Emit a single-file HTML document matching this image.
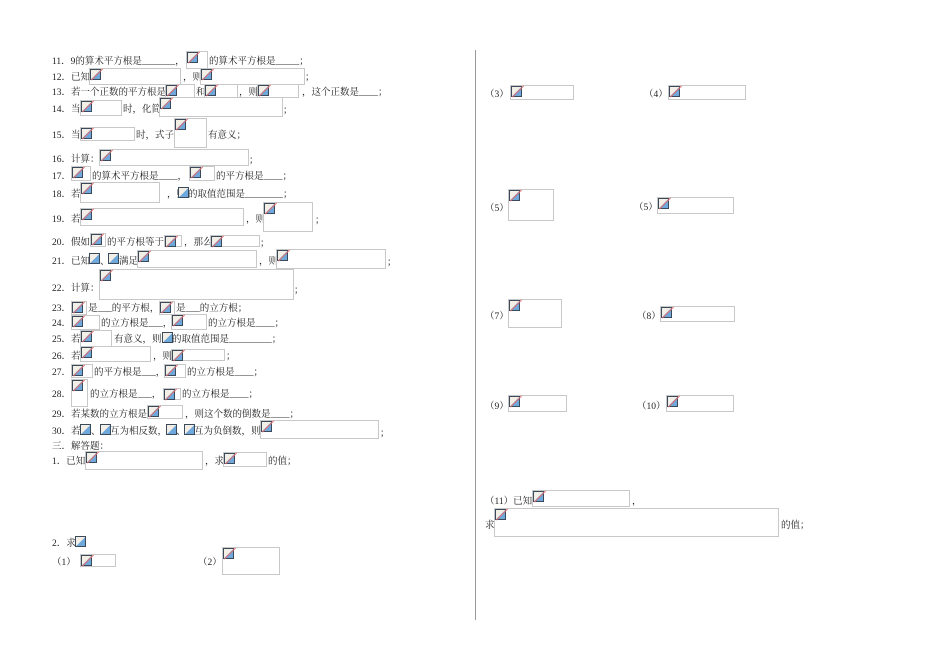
<!DOCTYPE html>
<html><head><meta charset="utf-8"><style>
body{margin:0;width:950px;height:672px;background:#fff;position:relative;overflow:hidden;font-family:"Liberation Serif","Noto Serif CJK SC",serif;font-size:9.5px;color:#222}
.t{position:absolute;white-space:nowrap;line-height:11px;transform:translateY(2px)}
.b{position:absolute;border:1px solid #c8c8c8;box-sizing:border-box}
.b::before,.i{content:"";position:absolute;left:0;top:0;width:11px;height:11px;border:1px solid #3a4a5a;box-sizing:border-box;background:linear-gradient(to top left,#6fa8da 48%,#f4efe6 50%)}
.i{position:absolute}
.b::after{content:"";position:absolute;left:-1px;top:5px;width:16px;height:1px;background:#e07070;transform:rotate(-45deg)}
.vl{position:absolute;left:475px;top:50px;width:1px;height:570px;background:#999}
</style></head><body>
<div class="vl"></div>
<span class="t" style="left:52px;top:55px">11．9的算术平方根是_______，</span>
<div class="b" style="left:186px;top:51px;width:22px;height:18px"></div>
<span class="t" style="left:209px;top:55px">的算术平方根是_____；</span>

<span class="t" style="left:52px;top:71px">12．已知</span>
<div class="b" style="left:89px;top:68px;width:92px;height:17px"></div>
<span class="t" style="left:183px;top:71px">，则</span>
<div class="b" style="left:200px;top:68px;width:105px;height:17px"></div>
<span class="t" style="left:305px;top:71px">；</span>

<span class="t" style="left:52px;top:86px">13．若一个正数的平方根是</span>
<div class="b" style="left:165px;top:84px;width:30px;height:14px"></div>
<span class="t" style="left:196px;top:86px">和</span>
<div class="b" style="left:204px;top:84px;width:34px;height:14px"></div>
<span class="t" style="left:239px;top:86px">，则</span>
<div class="b" style="left:257px;top:84px;width:42px;height:14px"></div>
<span class="t" style="left:302px;top:86px">，这个正数是____；</span>

<span class="t" style="left:52px;top:103px">14．当</span>
<div class="b" style="left:80px;top:100px;width:42px;height:16px"></div>
<span class="t" style="left:123px;top:103px">时，化简</span>
<div class="b" style="left:159px;top:97px;width:124px;height:20px"></div>
<span class="t" style="left:283px;top:104px">；</span>

<span class="t" style="left:52px;top:129px">15．当</span>
<div class="b" style="left:80px;top:127px;width:55px;height:14px"></div>
<span class="t" style="left:136px;top:129px">时，式子</span>
<div class="b" style="left:174px;top:118px;width:33px;height:30px"></div>
<span class="t" style="left:208px;top:129px">有意义；</span>

<span class="t" style="left:52px;top:153px">16．计算：</span>
<div class="b" style="left:99px;top:149px;width:150px;height:17px"></div>
<span class="t" style="left:249px;top:154px">；</span>

<span class="t" style="left:52px;top:170px">17．</span>
<div class="b" style="left:71px;top:166px;width:20px;height:15px"></div>
<span class="t" style="left:92px;top:170px">的算术平方根是____，</span>
<div class="b" style="left:189px;top:166px;width:26px;height:15px"></div>
<span class="t" style="left:216px;top:170px">的平方根是____；</span>

<span class="t" style="left:52px;top:188px">18．若</span>
<div class="b" style="left:80px;top:182px;width:80px;height:21px"></div>
<span class="t" style="left:167px;top:188px">，则</span>
<span class="i" style="left:178px;top:187px"></span>
<span class="t" style="left:188px;top:188px">的取值范围是________；</span>

<span class="t" style="left:52px;top:213px">19．若</span>
<div class="b" style="left:80px;top:208px;width:164px;height:18px"></div>
<span class="t" style="left:246px;top:213px">，则</span>
<div class="b" style="left:263px;top:202px;width:50px;height:30px"></div>
<span class="t" style="left:315px;top:214px">；</span>

<span class="t" style="left:52px;top:236px">20．假如</span>
<div class="b" style="left:90px;top:233px;width:16px;height:14px"></div>
<span class="t" style="left:107px;top:236px">的平方根等于</span>
<div class="b" style="left:164px;top:235px;width:18px;height:12px"></div>
<span class="t" style="left:184px;top:236px">，那么</span>
<div class="b" style="left:210px;top:235px;width:50px;height:12px"></div>
<span class="t" style="left:260px;top:237px">；</span>

<span class="t" style="left:52px;top:255px">21．已知</span>
<span class="i" style="left:89px;top:253px"></span>
<span class="t" style="left:100px;top:255px">、</span>
<span class="i" style="left:108px;top:253px"></span>
<span class="t" style="left:119px;top:255px">满足</span>
<div class="b" style="left:137px;top:250px;width:120px;height:18px"></div>
<span class="t" style="left:259px;top:255px">，则</span>
<div class="b" style="left:276px;top:249px;width:110px;height:20px"></div>
<span class="t" style="left:387px;top:256px">；</span>

<span class="t" style="left:52px;top:282px">22．计算：</span>
<div class="b" style="left:99px;top:269px;width:195px;height:31px"></div>
<span class="t" style="left:294px;top:284px">；</span>

<span class="t" style="left:52px;top:302px">23．</span>
<div class="b" style="left:71px;top:301px;width:16px;height:14px"></div>
<span class="t" style="left:88px;top:302px">是___的平方根，</span>
<div class="b" style="left:159px;top:301px;width:16px;height:14px"></div>
<span class="t" style="left:176px;top:302px">是___的立方根；</span>

<span class="t" style="left:52px;top:317px">24．</span>
<div class="b" style="left:71px;top:315px;width:29px;height:15px"></div>
<span class="t" style="left:101px;top:317px">的立方根是___，</span>
<div class="b" style="left:171px;top:314px;width:36px;height:16px"></div>
<span class="t" style="left:208px;top:317px">的立方根是____；</span>

<span class="t" style="left:52px;top:333px">25．若</span>
<div class="b" style="left:80px;top:330px;width:32px;height:17px"></div>
<span class="t" style="left:114px;top:333px">有意义，则</span>
<span class="i" style="left:162px;top:332px"></span>
<span class="t" style="left:172px;top:333px">的取值范围是_________；</span>

<span class="t" style="left:52px;top:350px">26．若</span>
<div class="b" style="left:80px;top:346px;width:71px;height:16px"></div>
<span class="t" style="left:153px;top:350px">，则</span>
<div class="b" style="left:171px;top:349px;width:54px;height:12px"></div>
<span class="t" style="left:226px;top:350px">；</span>

<span class="t" style="left:52px;top:366px">27．</span>
<div class="b" style="left:71px;top:364px;width:22px;height:14px"></div>
<span class="t" style="left:94px;top:366px">的平方根是___，</span>
<div class="b" style="left:164px;top:364px;width:22px;height:14px"></div>
<span class="t" style="left:187px;top:366px">的立方根是____；</span>

<span class="t" style="left:52px;top:388px">28．</span>
<div class="b" style="left:71px;top:379px;width:17px;height:28px"></div>
<span class="t" style="left:90px;top:388px">的立方根是___，</span>
<div class="b" style="left:163px;top:388px;width:18px;height:12px"></div>
<span class="t" style="left:182px;top:388px">的立方根是____；</span>

<span class="t" style="left:52px;top:408px">29．若某数的立方根是</span>
<div class="b" style="left:147px;top:405px;width:36px;height:14px"></div>
<span class="t" style="left:185px;top:408px">，则这个数的倒数是____；</span>

<span class="t" style="left:52px;top:425px">30．若</span>
<span class="i" style="left:80px;top:424px"></span>
<span class="t" style="left:91px;top:425px">、</span>
<span class="i" style="left:100px;top:424px"></span>
<span class="t" style="left:110px;top:425px">互为相反数，</span>
<span class="i" style="left:166px;top:424px"></span>
<span class="t" style="left:176px;top:425px">、</span>
<span class="i" style="left:184px;top:424px"></span>
<span class="t" style="left:194px;top:425px">互为负倒数，则</span>
<div class="b" style="left:260px;top:420px;width:119px;height:19px"></div>
<span class="t" style="left:380px;top:427px">；</span>

<span class="t" style="left:52px;top:440px">三．解答题：</span>
<span class="t" style="left:52px;top:455px">1．已知</span>
<div class="b" style="left:85px;top:451px;width:118px;height:19px"></div>
<span class="t" style="left:205px;top:455px">，求</span>
<div class="b" style="left:223px;top:452px;width:44px;height:15px"></div>
<span class="t" style="left:268px;top:455px">的值；</span>

<span class="t" style="left:52px;top:537px">2．求</span>
<span class="i" style="left:75px;top:536px"></span>
<span class="t" style="left:52px;top:556px">（1）</span>
<div class="b" style="left:80px;top:554px;width:36px;height:13px"></div>
<span class="t" style="left:198px;top:556px">（2）</span>
<div class="b" style="left:222px;top:547px;width:58px;height:28px"></div>

<span class="t" style="left:485px;top:88px">（3）</span>
<div class="b" style="left:510px;top:85px;width:64px;height:15px"></div>
<span class="t" style="left:644px;top:88px">（4）</span>
<div class="b" style="left:668px;top:85px;width:78px;height:15px"></div>

<span class="t" style="left:485px;top:202px">（5）</span>
<div class="b" style="left:508px;top:189px;width:46px;height:32px"></div>
<span class="t" style="left:634px;top:201px">（5）</span>
<div class="b" style="left:657px;top:197px;width:77px;height:17px"></div>

<span class="t" style="left:485px;top:310px">（7）</span>
<div class="b" style="left:508px;top:299px;width:54px;height:29px"></div>
<span class="t" style="left:637px;top:310px">（8）</span>
<div class="b" style="left:660px;top:306px;width:75px;height:16px"></div>

<span class="t" style="left:485px;top:400px">（9）</span>
<div class="b" style="left:508px;top:395px;width:59px;height:17px"></div>
<span class="t" style="left:637px;top:400px">（10）</span>
<div class="b" style="left:666px;top:395px;width:68px;height:17px"></div>

<span class="t" style="left:485px;top:495px">（11）已知</span>
<div class="b" style="left:532px;top:490px;width:98px;height:17px"></div>
<span class="t" style="left:632px;top:495px">，</span>
<span class="t" style="left:485px;top:519px">求</span>
<div class="b" style="left:494px;top:508px;width:285px;height:29px"></div>
<span class="t" style="left:781px;top:519px">的值；</span>
</body></html>
